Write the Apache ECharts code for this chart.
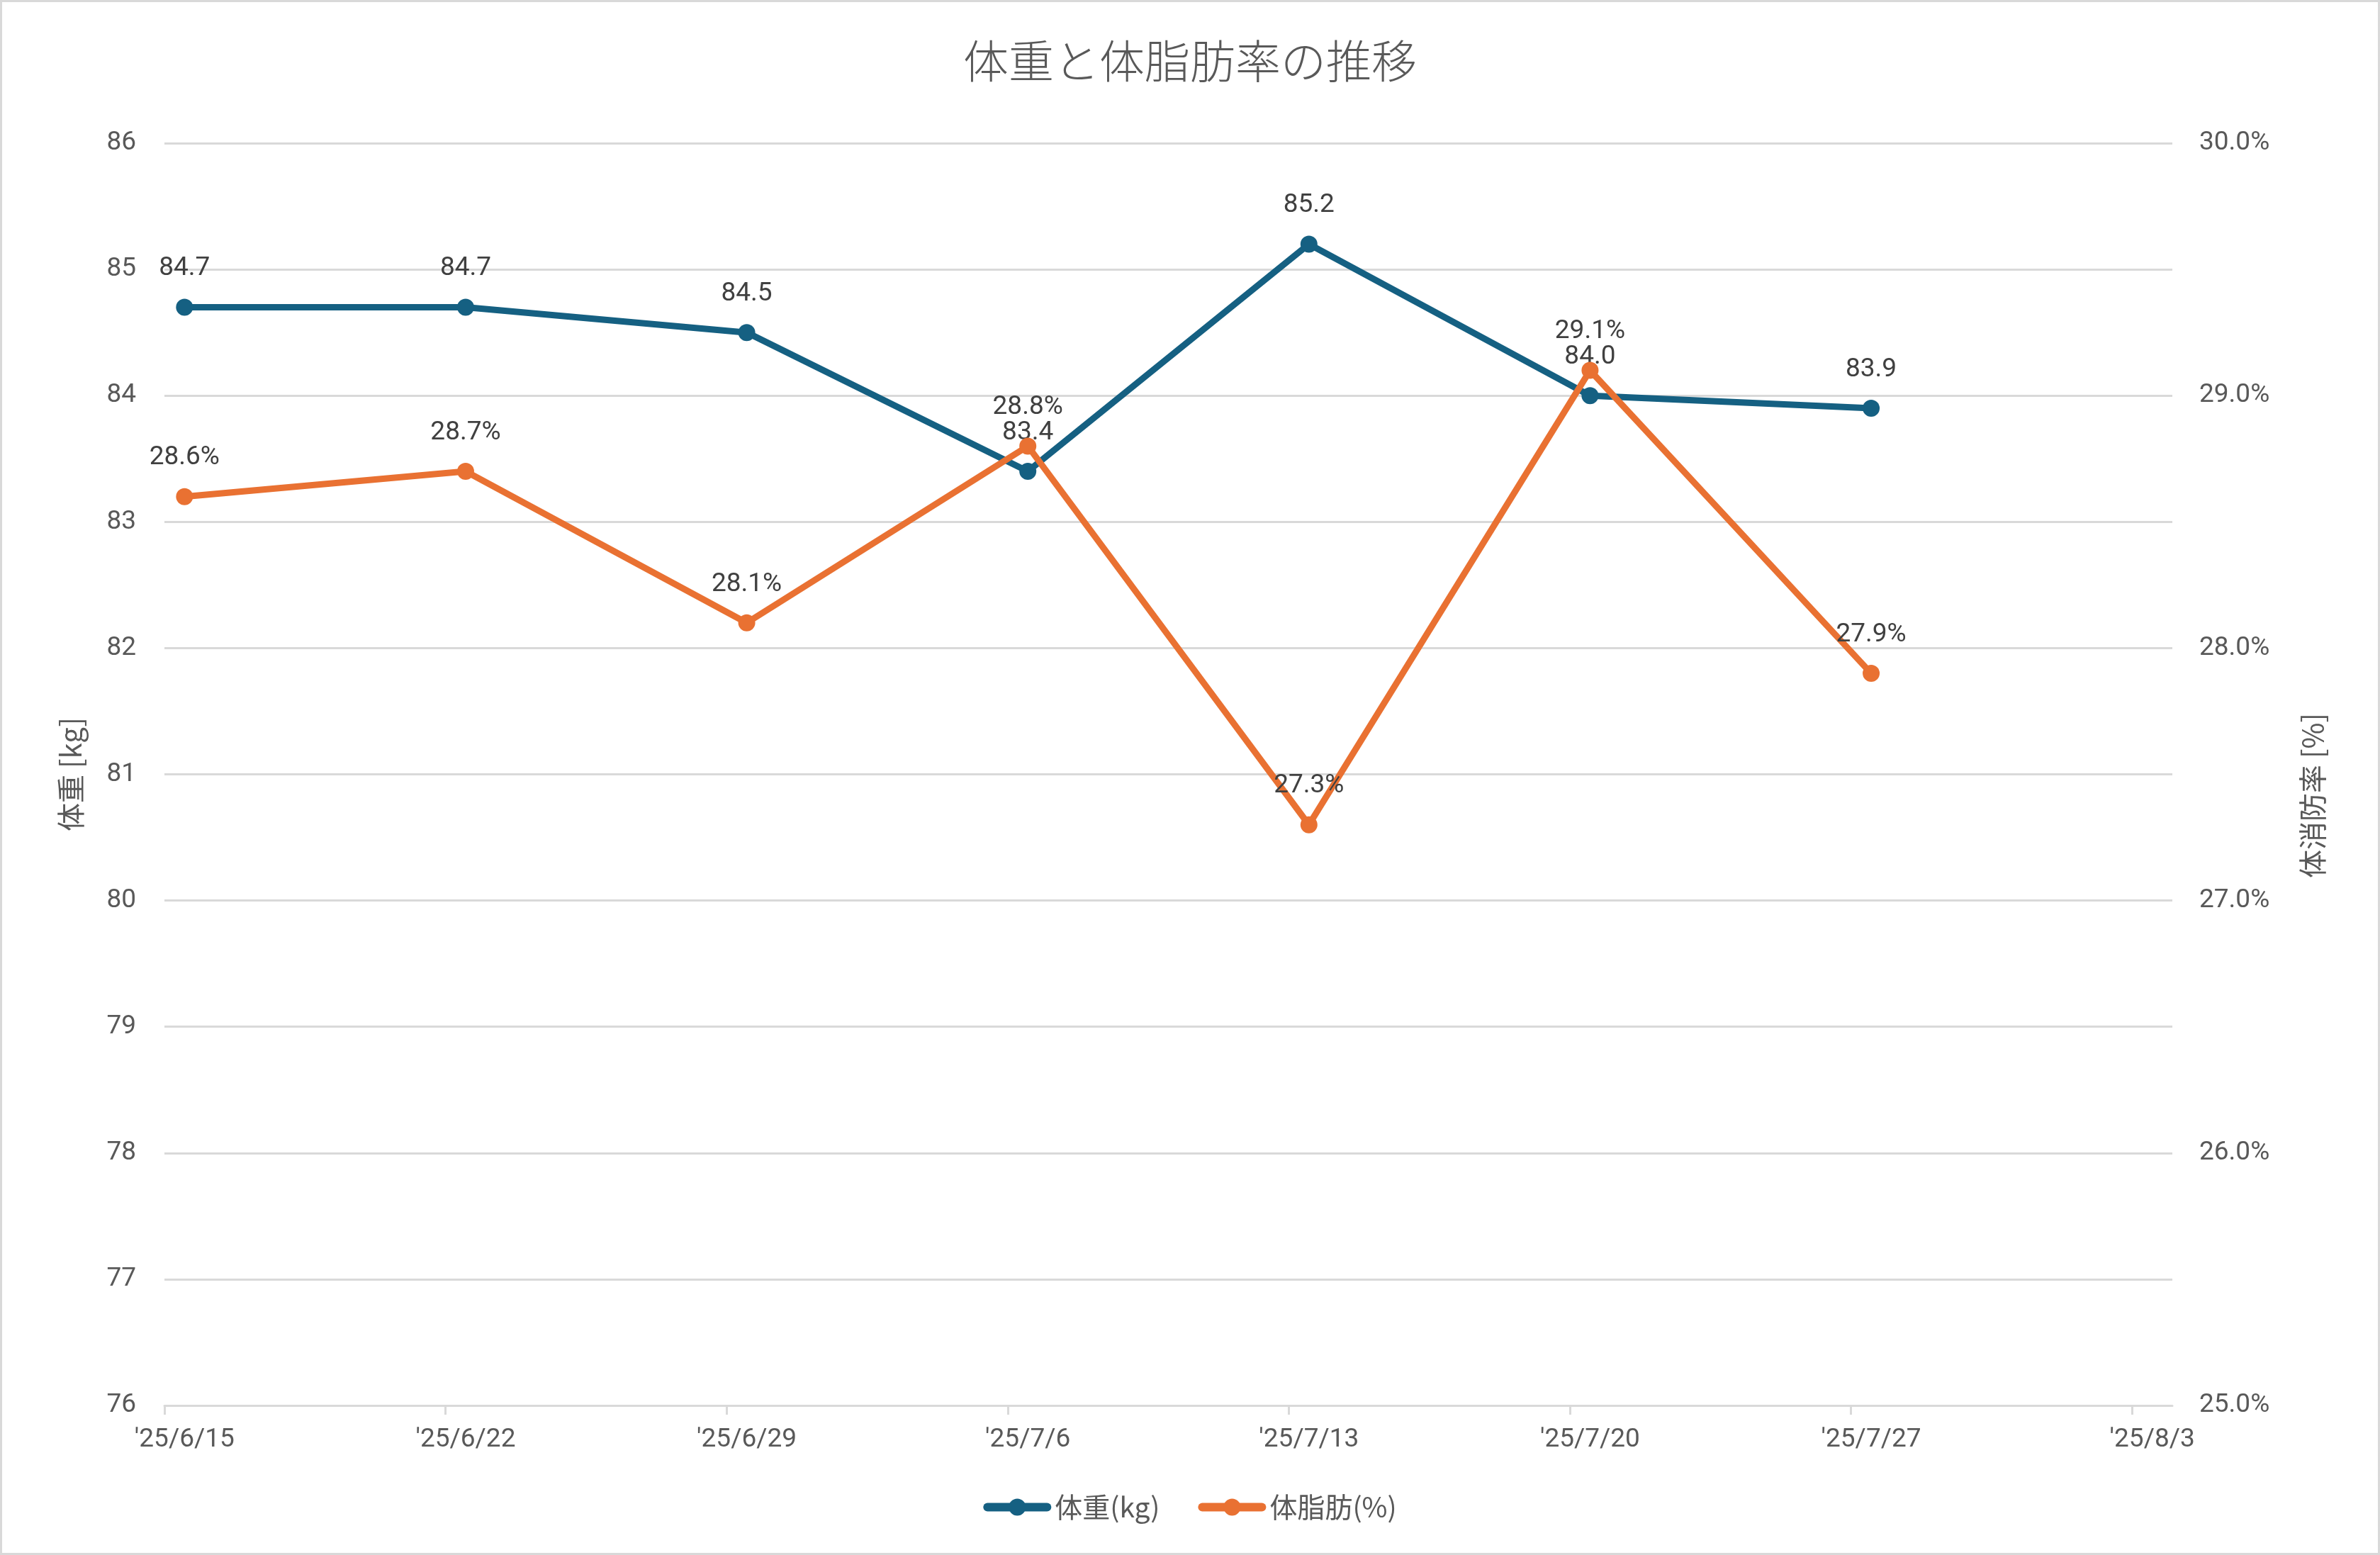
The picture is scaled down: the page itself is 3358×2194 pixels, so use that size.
<!DOCTYPE html>
<html>
<head>
<meta charset="utf-8">
<script src="https://cdn.jsdelivr.net/npm/echarts@6/dist/echarts.min.js"></script>
<style>
html,body{margin:0;padding:0;background:#fff;}
#c{width:3358px;height:2194px;box-sizing:border-box;border:3px solid #d9d9d9;}
</style>
</head>
<body>
<div id="c"></div>
<script>
// ---- data ----
const axisStart = '2025-06-15';
const axisEndDays = 50;            // axis runs to 2025-08-04
const dates = ['2025-06-15','2025-06-22','2025-06-29','2025-07-06','2025-07-13','2025-07-20','2025-07-27'];
const weightKg = [84.7, 84.7, 84.5, 83.4, 85.2, 84.0, 83.9];
const bodyFatPct = [28.6, 28.7, 28.1, 28.8, 27.3, 29.1, 27.9];
const tickDates = ['2025-06-15','2025-06-22','2025-06-29','2025-07-06','2025-07-13','2025-07-20','2025-07-27','2025-08-03'];
const titleText = '体重と体脂肪率の推移';
const leftAxisName = '体重 [kg]';
const rightAxisName = '体消防率 [%]';
const seriesNames = ['体重(kg)', '体脂肪(%)'];

// ---- helpers ----
const DAY = 86400000;
function dayIndex(d){ return Math.round((Date.parse(d) - Date.parse(axisStart)) / DAY); }
function fmtDate(d){ const p = d.split('-'); return "'" + p[0].slice(2) + '/' + (+p[1]) + '/' + (+p[2]); }
const tickIdx = tickDates.map(dayIndex);
const labelIdx = tickIdx.map(v => v + 0.5);
const labelMap = {};
tickDates.forEach((d,i)=>{ labelMap[labelIdx[i]] = fmtDate(d); });

const FONT = "Roboto, 'Noto Sans CJK JP', sans-serif";
const CJK = "'Noto Sans CJK JP', Roboto, sans-serif";
const BLUE = '#156082', ORANGE = '#E97132';
const TXT = '#595959', LBL = '#404040', GRID = '#d9d9d9';

const weightData = dates.map((d,i)=>[dayIndex(d)+0.5, weightKg[i]]);
const fatData = dates.map((d,i)=>[dayIndex(d)+0.5, bodyFatPct[i]]);

const chart = echarts.init(document.getElementById('c'), null, {renderer:'canvas'});
chart.setOption({
  backgroundColor:'#fff',
  animation:false,
  textStyle:{fontFamily:FONT},
  title:{
    text:titleText, left:'center', top:46,
    textStyle:{fontFamily:CJK, fontSize:64, fontWeight:300, color:TXT}
  },
  legend:{
    bottom:40, left:'center',
    itemWidth:84, itemHeight:30, itemGap:54,
    lineStyle:{width:12, cap:'round'},
    textStyle:{fontFamily:CJK, fontSize:39, color:TXT, padding:[0,0,0,6]},
    data:seriesNames
  },
  grid:{left:229, right:290, top:199, bottom:208, containLabel:false},
  xAxis:{
    type:'value', min:0, max:axisEndDays,
    splitLine:{show:false},
    axisLine:{show:true, lineStyle:{color:GRID, width:3}},
    axisTick:{show:true, length:13, lineStyle:{color:GRID, width:3}, customValues:tickIdx},
    axisLabel:{
      customValues:labelIdx, margin:30, fontSize:37, color:TXT, fontFamily:FONT,
      formatter:v => labelMap[v] || ''
    }
  },
  yAxis:[{
    type:'value', min:76, max:86, interval:1, position:'left',
    name:leftAxisName, nameLocation:'middle', nameGap:112, nameRotate:90,
    nameTextStyle:{fontFamily:CJK, fontSize:40, color:TXT},
    axisLine:{show:false}, axisTick:{show:false},
    axisLabel:{fontSize:37, color:TXT, margin:40, fontFamily:FONT},
    splitLine:{lineStyle:{color:GRID, width:3}}
  },{
    type:'value', min:25, max:30, interval:1, position:'right',
    name:rightAxisName, nameLocation:'middle', nameGap:178, nameRotate:90,
    nameTextStyle:{fontFamily:CJK, fontSize:40, color:TXT, padding:[0,60,0,0]},
    axisLine:{show:false}, axisTick:{show:false},
    axisLabel:{fontSize:37, color:TXT, margin:38, fontFamily:FONT, formatter:v=>v.toFixed(1)+'%'},
    splitLine:{show:false}
  }],
  series:[{
    name:seriesNames[0], type:'line', yAxisIndex:0, data:weightData,
    symbol:'circle', symbolSize:24, showAllSymbol:true,
    itemStyle:{color:BLUE}, lineStyle:{color:BLUE, width:9},
    label:{show:true, position:'top', distance:24, fontSize:37, color:LBL, fontFamily:FONT,
      formatter:p=>p.value[1].toFixed(1)},
    z:2
  },{
    name:seriesNames[1], type:'line', yAxisIndex:1, data:fatData,
    symbol:'circle', symbolSize:24, showAllSymbol:true,
    itemStyle:{color:ORANGE}, lineStyle:{color:ORANGE, width:9},
    label:{show:true, position:'top', distance:24, fontSize:37, color:LBL, fontFamily:FONT,
      formatter:p=>p.value[1].toFixed(1)+'%'},
    z:3
  }]
});
</script>
</body>
</html>
